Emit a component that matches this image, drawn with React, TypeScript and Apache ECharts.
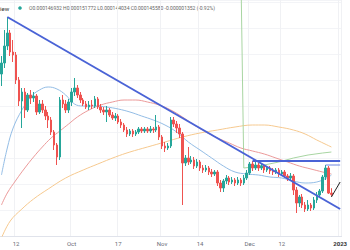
import { useEffect, useRef } from 'react';
import * as echarts from 'echarts';

// Daily candles, Sep 7 2022 .. Dec 30 2022; prices in millionths (x 1e-6)
const firstDay = Date.UTC(2022, 8, 7);
const axisDays = 117; // Sep 7 2022 .. Jan 1 2023

const open = [
  266, 277, 294, 307, 288, 285, 260, 239, 248, 230,
  245, 242, 244, 228, 236, 230, 224, 220, 208, 195,
  183, 240, 236, 230, 238, 248, 252, 245, 240, 236,
  233, 235, 234, 241, 233, 230, 228, 230, 225, 222,
  224, 218, 215, 210, 206, 209, 206, 208, 211, 209,
  211, 209, 211, 210, 213, 203, 194, 192, 194, 220,
  216, 212, 206, 177, 182, 178, 180, 174, 178, 172,
  170, 172, 168, 166, 168, 157, 152, 159, 162, 158,
  160, 157, 160, 157, 162, 167, 176, 172, 175, 172,
  174, 170, 172, 169, 168, 170, 166, 168, 164, 162,
  164, 150, 137, 143, 135, 131, 135, 132, 140, 145,
  149, 163, 172, 146.932,
];
const close = [
  277, 294, 307, 288, 285, 260, 239, 248, 230, 245,
  242, 244, 228, 236, 230, 224, 220, 208, 195, 183,
  240, 236, 230, 238, 248, 252, 245, 240, 236, 233,
  235, 234, 241, 233, 230, 228, 230, 225, 222, 224,
  218, 215, 210, 206, 209, 206, 208, 211, 209, 211,
  209, 211, 210, 213, 203, 194, 192, 194, 220, 216,
  212, 206, 177, 182, 178, 180, 174, 178, 172, 170,
  172, 168, 166, 168, 157, 152, 159, 162, 158, 160,
  157, 160, 157, 162, 167, 176, 172, 175, 172, 174,
  170, 172, 169, 168, 170, 166, 168, 164, 162, 164,
  150, 137, 143, 135, 131, 135, 132, 140, 145, 149,
  163, 172, 146.932, 145.58,
];
const high = [
  284, 310, 323, 310, 300, 288, 263, 252, 252, 247,
  250, 248, 246, 240, 240, 234, 228, 223, 210, 197,
  243, 245, 240, 241, 252, 262, 255, 248, 242, 239,
  239, 240, 244, 243, 236, 233, 234, 232, 228, 227,
  226, 221, 217, 213, 211, 211, 210, 213, 213, 213,
  213, 214, 213, 225, 215, 205, 198, 197, 223, 223,
  219, 216, 208, 185, 193, 184, 183, 181, 180, 175,
  175, 174, 171, 170, 170, 160, 161, 165, 164, 163,
  162, 163, 162, 165, 170, 178, 179, 178, 177, 177,
  176, 174, 174, 172, 172, 172, 170, 170, 166, 167,
  166, 153, 145, 146, 138, 140, 137, 143, 148, 151,
  165, 175, 174, 151.772,
];
const low = [
  254, 272, 290, 284, 278, 256, 234, 212, 222, 228,
  236, 238, 225, 226, 227, 220, 212, 205, 190, 175,
  180, 232, 227, 227, 234, 244, 242, 237, 234, 231,
  230, 231, 232, 231, 227, 225, 218, 223, 220, 219,
  216, 212, 208, 203, 204, 203, 204, 206, 207, 207,
  207, 207, 207, 208, 200, 191, 188, 190, 192, 213,
  207, 202, 135, 174, 175, 176, 171, 172, 169, 167,
  168, 165, 163, 164, 154, 148, 148, 156, 155, 156,
  154, 155, 154, 155, 160, 165, 169, 170, 169, 170,
  167, 168, 166, 165, 166, 163, 164, 162, 159, 160,
  145, 127, 133, 132, 128, 129, 129, 130, 137, 143,
  147, 160, 146, 144.034,
];

// moving averages: [candle index, price]
const maFast = [
  [0, 165], [2, 192], [4, 212], [7, 230], [10, 243], [13, 250], [16, 253], [19, 251],
  [22, 245], [25, 236], [28, 234], [32, 234], [36, 233], [40, 231], [44, 228], [48, 224],
  [52, 220], [56, 215], [60, 208], [64, 198], [68, 190], [72, 182], [76, 174], [80, 168],
  [84, 166], [88, 165], [92, 163], [96, 162], [100, 159], [104, 157], [108, 158], [112, 163], [113, 165],
];
const maMid = [
  [0, 135], [2, 147], [5, 160], [8, 172], [11, 183], [14, 193], [17, 202], [20, 209],
  [23, 216], [26, 223], [30, 230], [34, 235], [38, 238], [42, 240], [46, 240], [50, 238],
  [54, 235], [58, 230], [62, 223], [66, 215], [70, 208], [74, 202], [78, 197], [82, 192],
  [86, 189], [90, 186], [94, 182], [98, 178], [102, 174], [106, 171], [110, 168], [113, 166],
];
const maSlow = [
  [0, 102], [3, 119], [7, 131], [11, 141], [16, 151], [22, 162], [28, 170], [33, 176],
  [39, 183], [44, 188], [50, 193], [56, 198], [62, 203], [68, 207], [74, 210], [80, 213],
  [86, 215], [90, 215], [95, 213], [100, 210], [104, 206], [108, 200], [113, 193],
];
const maLong = [
  [82, 370], [83, 172], [86, 173], [90, 175], [95, 178], [100, 182], [105, 185], [110, 187], [113, 188],
];

// drawings: [candle index, price]
const trendDown = [[2, 323], [116, 131]];
const resistance = [[86, 179], [116, 179]];
const recentHigh = [[111, 175], [116, 175]];
const arrowLine = [[113, 143], [116, 158]];

const tickLabels = [
  ['2022-09-12', '12'], ['2022-10-01', 'Oct'], ['2022-10-17', '17'], ['2022-11-01', 'Nov'],
  ['2022-11-14', '14'], ['2022-12-01', 'Dec'], ['2022-12-12', '12'], ['2023-01-01', '2023'],
];

const UP = '#26a69a';
const DOWN = '#ef5350';

export default function App() {
  const ref = useRef<HTMLDivElement>(null);
  useEffect(() => {
    if (!ref.current) return;
    const chart = echarts.init(ref.current, undefined, { renderer: 'svg' });
    const dates: string[] = [];
    for (let i = 0; i < axisDays; i++) {
      dates.push(new Date(firstDay + i * 86400000).toISOString().slice(0, 10));
    }
    const labelMap: Record<string, string> = {};
    tickLabels.forEach(([d, t]) => (labelMap[d] = t));
    const showTick = (_: number, v: string) => v in labelMap;
    const candles = open.map((o, i) => [o, close[i], low[i], high[i]]);
    const pts = (arr: number[][]) => arr.map(([i, v]) => [dates[i], v]);
    const n = open.length - 1;
    const f = (v: number) => (v / 1e6).toFixed(9);
    const chg = close[n] - close[n - 1];
    const pct = (chg / close[n - 1]) * 100;
    const header = `O${f(open[n])} H${f(high[n])} L${f(low[n])} C${f(close[n])} ${chg < 0 ? '-' : '+'}${f(Math.abs(chg))} (${pct < 0 ? '-' : '+'}${Math.abs(pct).toFixed(2)}%)`;

    const ma = (data: number[][], color: string, smooth: boolean | number) => ({
      type: 'line', data: pts(data), showSymbol: false, smooth, silent: true,
      lineStyle: { color, width: 1 }, z: 3,
    });
    const draw = (data: number[][], color: string, width: number) => ({
      type: 'line', data: pts(data), showSymbol: false, silent: true,
      lineStyle: { color, width }, z: 5,
    });

    chart.setOption({
      animation: false,
      textStyle: { fontFamily: 'Roboto, "Noto Sans", sans-serif' },
      grid: { left: 0, right: 0, top: 0, bottom: 14 },
      xAxis: {
        type: 'category', data: dates, boundaryGap: true,
        axisLine: { show: true, lineStyle: { color: '#e0e3eb' } },
        axisTick: { show: false },
        axisLabel: {
          interval: showTick, fontSize: 6, color: '#6a6d78', margin: 4,
          formatter: (v: string) => (labelMap[v] === '2023' ? '{b|2023}' : labelMap[v] || ''),
          rich: { b: { fontWeight: 'bold', fontSize: 6, color: '#333' } },
        },
        splitLine: { show: true, interval: showTick, lineStyle: { color: '#f0f1f4', width: 1 } },
      },
      yAxis: {
        type: 'value', min: 104, max: 340, interval: 26, scale: false,
        axisLabel: { show: false }, axisLine: { show: false }, axisTick: { show: false },
        splitLine: { show: true, lineStyle: { color: '#f3f4f7', width: 1 } },
      },
      series: [
        ma(maSlow, '#f6c98f', 0.4),
        ma(maMid, '#ec9a9a', 0.4),
        ma(maFast, '#93bde6', 0.4),
        ma(maLong, '#a8d5a2', false),
        {
          type: 'candlestick', data: candles, barWidth: 2, z: 4, silent: true,
          itemStyle: { color: UP, color0: DOWN, borderColor: UP, borderColor0: DOWN, borderWidth: 1 },
        },
        draw(trendDown, '#4a63d6', 2),
        draw(resistance, '#4a63d6', 2),
        draw(recentHigh, '#6f86e0', 1),
        draw(arrowLine, '#222222', 1),
      ],
      graphic: [
        { type: 'text', x: 0, y: 8, style: { text: 'iew', fontSize: 6, fill: '#333', verticalAlign: 'middle', fontFamily: 'Roboto, sans-serif' } },
        { type: 'circle', shape: { cx: 20, cy: 8, r: 1.8 }, style: { fill: UP } },
        { type: 'text', x: 29, y: 8, style: { text: header, fontSize: 5, fill: '#666', verticalAlign: 'middle', fontFamily: 'Roboto, sans-serif' } },
      ],
    });
    return () => chart.dispose();
  }, []);
  return <div ref={ref} style={{ position: 'absolute', left: 0, top: 0, width: 350, height: 250 }} />;
}
